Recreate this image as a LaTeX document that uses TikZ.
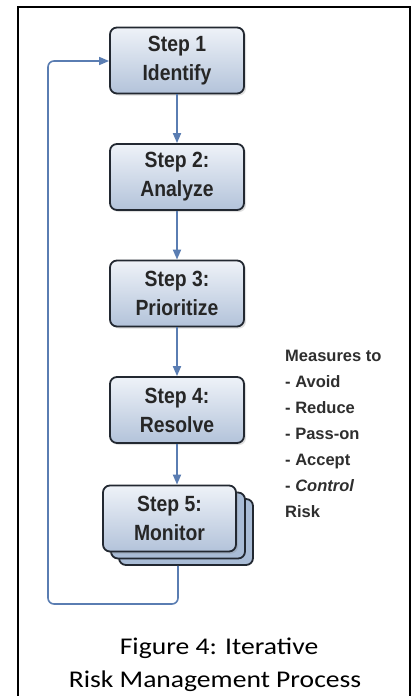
\documentclass[tikz,border=0pt]{standalone}
\usepackage{fontspec}
\setmainfont{Carlito}
\newfontfamily\capfont[FakeStretch=1.15]{Carlito}
\newfontfamily\boxfont[FakeStretch=0.88]{Liberation Sans}
\newfontfamily\measfont{Liberation Sans}
\usetikzlibrary{arrows.meta,shadows}
\definecolor{arrowblue}{HTML}{5A7DB2}
\definecolor{boxtop}{HTML}{EEF2F8}
\definecolor{boxbot}{HTML}{B3C3DA}
\definecolor{boxline}{HTML}{222831}
\definecolor{measgray}{HTML}{2E2E2E}
\definecolor{backcard}{HTML}{A9BCD6}
\tikzset{
  stepbox/.style={draw=boxline, line width=1.8pt, rounded corners=7pt,
    top color=boxtop, bottom color=boxbot,
    minimum width=134pt, minimum height=66pt, inner sep=0pt,
    align=center, font=\boxfont\bfseries\fontsize{22}{29}\selectfont,
    text=black!85,
    drop shadow={shadow xshift=2pt, shadow yshift=-2pt, opacity=0.25}},
  cardbox/.style={draw=boxline, line width=1.8pt, rounded corners=7pt,
    fill=backcard, minimum width=134pt, minimum height=66pt, inner sep=0pt},
  flow/.style={draw=arrowblue, line width=1.8pt,
    -{Triangle[length=10pt,width=8pt]}},
  loopline/.style={draw=arrowblue, line width=1.6pt, rounded corners=6pt,
    -{Triangle[length=10pt,width=8pt]}},
  meas/.style={anchor=base west, font=\measfont\bfseries\fontsize{16.5}{20}\selectfont,
    text=measgray, inner sep=0pt},
  caption/.style={anchor=base, font=\capfont\fontsize{24}{28}\selectfont, text=black, inner sep=0pt}
}
\begin{document}
\begin{tikzpicture}[x=1pt,y=-1pt]
\useasboundingbox (0,0) rectangle (411,696);
\fill[white] (0,0) rectangle (411,696);
\draw[black, line width=1.3pt] (18,7) rectangle (410,697);

\node[stepbox] (s1) at (177,60.5) {Step 1\\Identify};
\node[stepbox] (s2) at (177,177) {Step 2:\\Analyze};
\node[stepbox] (s3) at (177,293.5) {Step 3:\\Prioritize};
\node[stepbox] (s4) at (177,410) {Step 4:\\Resolve};
\node[cardbox] (c3) at (186,532) {};
\node[cardbox] (c2) at (178,525.5) {};
\node[stepbox, minimum width=133pt] (s5) at (169.5,518.5) {Step 5:\\Monitor};

\draw[flow] (s1) -- (s2);
\draw[flow] (s2) -- (s3);
\draw[flow] (s3) -- (s4);
\draw[flow] (s4.south) -- (s4.south |- s5.north);

\coordinate (lp1) at (178,604);
\coordinate (lp2) at (48,604);
\coordinate (lp3) at (48,61);
\draw[loopline] (c3.south -| lp1) -- (lp1) -- (lp2) -- (lp3) -- (s1.west |- lp3);

\node[meas] (m0) at (285,361) {Measures to};
\node[meas] (m1) at (285,387) {- Avoid};
\node[meas] (m2) at (285,413) {- Reduce};
\node[meas] (m3) at (285,439) {- Pass-on};
\node[meas] (m4) at (285,465) {- Accept};
\node[meas] (m5) at (285,491) {- \textit{Control}};
\node[meas] (m6) at (285,517) {Risk};

\node[caption] (cap1) at (219,654) {Figure 4: Iterative};
\node[caption] (cap2) at (215,687) {Risk Management Process};
\end{tikzpicture}
\end{document}
